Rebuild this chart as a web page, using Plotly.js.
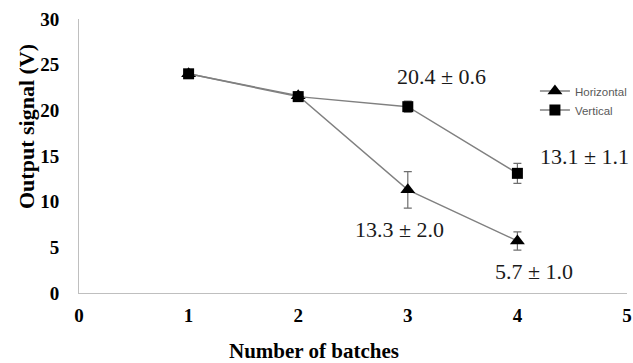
<!DOCTYPE html>
<html>
<head>
<meta charset="utf-8">
<script src="https://cdn.plot.ly/plotly-3.0.1.min.js"></script>
<style>html,body{margin:0;padding:0;background:#fff;}#chart{width:633px;height:363px;}</style>
</head>
<body>
<div id="chart"></div>
<script>
const batches = [1, 2, 3, 4];
const horizontalValues = [24.0, 21.6, 11.3, 5.7];
const horizontalErrors = [0.4, 0.4, 2.0, 1.0];
const verticalValues = [24.0, 21.5, 20.4, 13.1];
const verticalErrors = [0.4, 0.4, 0.6, 1.1];
const seriesNames = ["Horizontal", "Vertical"];
const labelTexts = ["20.4 ± 0.6", "13.1 ± 1.1", "13.3 ± 2.0", "5.7 ± 1.0"];
const labelX = [3.31, 4.61, 2.92, 4.15];
const labelY = [23.7, 15.0, 6.9, 2.3];
const xTicks = [0, 1, 2, 3, 4, 5];
const yTicks = [0, 5, 10, 15, 20, 25, 30];

const serif = "'Liberation Serif', 'Times New Roman', serif";

const traces = [
  {
    x: batches, y: horizontalValues, name: seriesNames[0], type: 'scatter', mode: 'lines+markers',
    line: {color: '#808080', width: 1.4},
    marker: {symbol: 'triangle-up', size: 13, color: '#000'},
    error_y: {type: 'data', array: horizontalErrors, visible: true, color: '#6e6e6e', thickness: 1.2, width: 4}
  },
  {
    x: batches, y: verticalValues, name: seriesNames[1], type: 'scatter', mode: 'lines+markers',
    line: {color: '#808080', width: 1.4},
    marker: {symbol: 'square', size: 11, color: '#000'},
    error_y: {type: 'data', array: verticalErrors, visible: true, color: '#6e6e6e', thickness: 1.2, width: 4}
  }
];

const annotations = labelTexts.map((t, i) => ({
  x: labelX[i], y: labelY[i], xref: 'x', yref: 'y', text: t, showarrow: false,
  xanchor: 'center', yanchor: 'middle',
  font: {family: serif, size: 22, color: '#1a1a1a'}
}));
annotations.push({
  xref: 'paper', yref: 'paper', x: (314 - 79) / 548, y: -(351 - 293) / 274,
  xanchor: 'center', yanchor: 'middle',
  text: '<b>Number of batches</b>', showarrow: false,
  font: {family: serif, size: 21, color: '#000'}
});
annotations.push({
  xref: 'paper', yref: 'paper', x: -(79 - 27) / 548, y: (293 - 127) / 274,
  xanchor: 'center', yanchor: 'middle',
  text: '<b>Output signal (V)</b>', showarrow: false, textangle: -90,
  font: {family: serif, size: 22, color: '#000'}
});

const layout = {
  width: 633, height: 363,
  margin: {l: 79, r: 6, t: 19, b: 70, autoexpand: false},
  paper_bgcolor: '#fff', plot_bgcolor: '#fff',
  showlegend: true,
  legend: {
    x: 0.832, y: 0.79, xanchor: 'left', yanchor: 'top',
    font: {family: "'Liberation Sans', Arial, sans-serif", size: 11.5, color: '#595959'},
    bgcolor: 'rgba(0,0,0,0)', tracegroupgap: 0, itemwidth: 30
  },
  xaxis: {
    range: [0, 5], tickvals: xTicks, ticktext: xTicks.map(String),
    showgrid: false, zeroline: false, showline: true, linecolor: '#bfbfbf', linewidth: 1,
    ticks: '', ticklabelstandoff: 5, automargin: false,
    tickfont: {family: serif, size: 19, color: '#000', weight: 'bold'}
  },
  yaxis: {
    range: [0, 30], tickvals: yTicks, ticktext: yTicks.map(String),
    showgrid: false, zeroline: false, showline: true, linecolor: '#bfbfbf', linewidth: 1,
    ticks: '', ticklabelstandoff: 15, automargin: false,
    tickfont: {family: serif, size: 19, color: '#000', weight: 'bold'}
  },
  annotations: annotations
};

Plotly.newPlot('chart', traces, layout, {displayModeBar: false, staticPlot: true});
</script>
</body>
</html>
